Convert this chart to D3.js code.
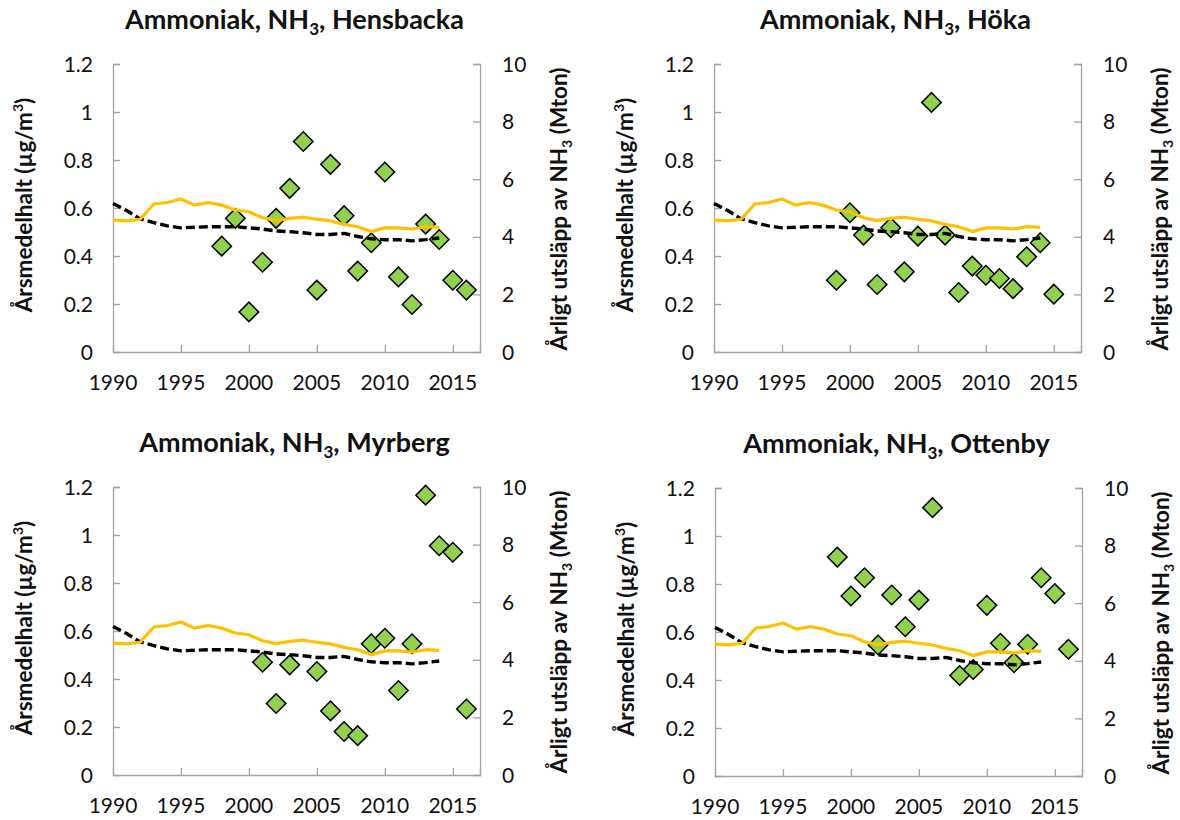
<!DOCTYPE html>
<html>
<head>
<meta charset="utf-8">
<script src="https://cdn.jsdelivr.net/npm/d3@7"></script>
<style>
  body { margin: 0; background: #fff; }
  svg { display: block; }
  text { font-family: Lato, "Open Sans", "Noto Sans", sans-serif; fill: #111; }
</style>
</head>
<body>
<svg id="chart" width="1180" height="820"></svg>
<script>
// National NH3 emissions (Mton), shared by all four panels
const emissionYears = [1990, 1991, 1992, 1993, 1994, 1995, 1996, 1997, 1998, 1999, 2000, 2001, 2002,
                       2003, 2004, 2005, 2006, 2007, 2008, 2009, 2010, 2011, 2012, 2013, 2014];
const emissionSolid = [4.58, 4.55, 4.61, 5.14, 5.19, 5.31, 5.10, 5.19, 5.10, 4.93, 4.87, 4.66, 4.56,
                       4.64, 4.68, 4.61, 4.55, 4.43, 4.35, 4.18, 4.31, 4.31, 4.27, 4.35, 4.33];
const emissionDashed = [5.16, 4.91, 4.62, 4.49, 4.38, 4.31, 4.33, 4.35, 4.35, 4.35, 4.31, 4.27, 4.20,
                        4.18, 4.14, 4.08, 4.08, 4.12, 4.01, 3.93, 3.90, 3.90, 3.86, 3.90, 3.96];

// Annual mean concentrations (µg/m³) per station
const hensbackaYears = [1998, 1999, 2000, 2001, 2002, 2003, 2004, 2005, 2006, 2007, 2008, 2009, 2010,
                        2011, 2012, 2013, 2014, 2015, 2016];
const hensbackaValues = [0.441, 0.557, 0.167, 0.374, 0.557, 0.682, 0.877, 0.258, 0.782, 0.568, 0.337,
                         0.455, 0.750, 0.313, 0.198, 0.533, 0.469, 0.299, 0.258];

const hokaYears = [1999, 2000, 2001, 2002, 2003, 2004, 2005, 2006, 2007, 2008, 2009, 2010, 2011,
                   2012, 2013, 2014, 2015];
const hokaValues = [0.299, 0.580, 0.487, 0.281, 0.518, 0.334, 0.483, 1.040, 0.487, 0.248, 0.358,
                    0.320, 0.306, 0.264, 0.397, 0.455, 0.241];

const myrbergYears = [2001, 2002, 2003, 2005, 2006, 2007, 2008, 2009, 2010, 2011, 2012, 2013, 2014,
                      2015, 2016];
const myrbergValues = [0.470, 0.298, 0.459, 0.431, 0.267, 0.181, 0.164, 0.547, 0.570, 0.352, 0.547,
                       1.166, 0.955, 0.928, 0.275];

const ottenbyYears = [1999, 2000, 2001, 2002, 2003, 2004, 2005, 2006, 2008, 2009, 2010, 2011, 2012,
                      2013, 2014, 2015, 2016];
const ottenbyValues = [0.912, 0.750, 0.826, 0.546, 0.754, 0.622, 0.733, 1.118, 0.419, 0.444, 0.711,
                       0.553, 0.472, 0.549, 0.826, 0.760, 0.528];

const stationNames = ["Hensbacka", "Höka", "Myrberg", "Ottenby"];

// Axis ticks and labels
const xTicks = [1990, 1995, 2000, 2005, 2010, 2015];
const xTickLabels = ["1990", "1995", "2000", "2005", "2010", "2015"];
const yLeftTicks = [0, 0.2, 0.4, 0.6, 0.8, 1, 1.2];
const yLeftTickLabels = ["0", "0.2", "0.4", "0.6", "0.8", "1", "1.2"];
const yRightTicks = [0, 2, 4, 6, 8, 10];
const yRightTickLabels = ["0", "2", "4", "6", "8", "10"];

// Panel placement (plot-area corners)
const layout = [
  { left: 113, top: 64,  years: hensbackaYears, values: hensbackaValues },
  { left: 714, top: 64,  years: hokaYears,      values: hokaValues },
  { left: 113, top: 487, years: myrbergYears,   values: myrbergValues },
  { left: 715, top: 488, years: ottenbyYears,   values: ottenbyValues }
];
const plotW = 367, plotH = 288;
const axisColor = "#a3a3a3";

const svg = d3.select("#chart");

layout.forEach((p, i) => {
  const g = svg.append("g").attr("transform", `translate(${p.left},${p.top})`);

  const x = d3.scaleLinear().domain([1990, 2017]).range([0, plotW]);
  const yL = d3.scaleLinear().domain([0, 1.2]).range([plotH, 0]);
  const yR = d3.scaleLinear().domain([0, 10]).range([plotH, 0]);

  // Axes: ticks point inward, labels drawn separately
  const xAxis = d3.axisBottom(x).tickValues(xTicks.filter(t => t > 1990)).tickSize(-7).tickFormat("");
  const lAxis = d3.axisLeft(yL).tickValues(yLeftTicks.filter(t => t > 0)).tickSize(-7).tickFormat("");
  const rAxis = d3.axisRight(yR).tickValues(yRightTicks.filter(t => t > 0)).tickSize(-7).tickFormat("");

  [[xAxis, `translate(0,${plotH})`], [lAxis, null], [rAxis, `translate(${plotW},0)`]].forEach(([ax, tr]) => {
    const a = g.append("g").call(ax);
    if (tr) a.attr("transform", tr);
    a.select(".domain").attr("stroke", axisColor).attr("stroke-width", 1.3);
    a.selectAll(".tick line").attr("stroke", axisColor).attr("stroke-width", 1.3);
  });

  // Tick labels
  g.selectAll(".xl").data(xTicks).join("text")
    .attr("x", d => x(d)).attr("y", plotH + 38)
    .attr("text-anchor", "middle").attr("font-size", 21)
    .text((d, k) => xTickLabels[k]);
  g.selectAll(".yl").data(yLeftTicks).join("text")
    .attr("x", -20).attr("y", d => yL(d)).attr("dy", "0.36em")
    .attr("text-anchor", "end").attr("font-size", 21)
    .text((d, k) => yLeftTickLabels[k]);
  g.selectAll(".yr").data(yRightTicks).join("text")
    .attr("x", plotW + 22).attr("y", d => yR(d)).attr("dy", "0.36em")
    .attr("text-anchor", "start").attr("font-size", 21)
    .text((d, k) => yRightTickLabels[k]);

  // Title
  const title = g.append("text")
    .attr("x", plotW / 2 - 2).attr("y", -35)
    .attr("text-anchor", "middle").attr("font-size", 27).attr("font-weight", 700);
  title.append("tspan").text("Ammoniak, NH");
  title.append("tspan").attr("font-size", 17).attr("dy", 6).text("3");
  title.append("tspan").attr("dy", -6).text(", " + stationNames[i]);

  // Left axis title
  const lt = g.append("text")
    .attr("transform", `translate(-81,${plotH / 2 - 3}) rotate(-90)`)
    .attr("text-anchor", "middle").attr("font-size", 22.5).attr("font-weight", 700);
  lt.append("tspan").text("Årsmedelhalt (µg/m");
  lt.append("tspan").attr("font-size", 14).attr("dy", -9).text("3");
  lt.append("tspan").attr("dy", 9).text(")");

  // Right axis title
  const rt = g.append("text")
    .attr("transform", `translate(${plotW + 87},${plotH / 2 + 1}) rotate(-90)`)
    .attr("text-anchor", "middle").attr("font-size", 22.5).attr("font-weight", 700);
  rt.append("tspan").text("Årligt utsläpp av NH");
  rt.append("tspan").attr("font-size", 14).attr("dy", 5).text("3");
  rt.append("tspan").attr("dy", -5).text(" (Mton)");

  // Station concentrations as diamonds
  const diamond = d3.symbol().type(d3.symbolSquare).size(190);
  g.selectAll(".pt").data(p.years.map((yr, k) => [yr, p.values[k]])).join("path")
    .attr("d", diamond)
    .attr("transform", d => `translate(${x(d[0])},${yL(d[1])}) rotate(45)`)
    .attr("fill", "#92d050").attr("stroke", "#000").attr("stroke-width", 1.5);

  // Emission lines on the right axis
  const pts = (vals) => emissionYears.map((yr, k) => [yr, vals[k]]);
  const line = d3.line().x(d => x(d[0])).y(d => yR(d[1]));
  g.append("path").datum(pts(emissionDashed)).attr("d", line)
    .attr("fill", "none").attr("stroke", "#000").attr("stroke-width", 3.4)
    .attr("stroke-dasharray", "9,4");
  g.append("path").datum(pts(emissionSolid)).attr("d", line)
    .attr("fill", "none").attr("stroke", "#ffc000").attr("stroke-width", 3.2)
    .attr("stroke-linejoin", "round");
});
</script>
</body>
</html>
